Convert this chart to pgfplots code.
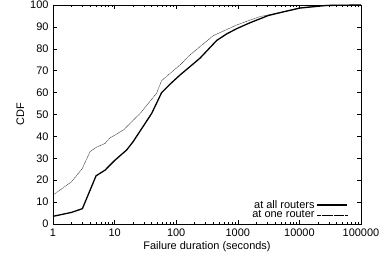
\documentclass[border=0pt]{standalone}
\usepackage{fontspec}
\setmainfont{Liberation Sans}
\usepackage{pgfplots}
\usetikzlibrary{calc}
\pgfplotsset{compat=1.18}
\begin{document}
\begin{tikzpicture}
\begin{axis}[
  name=ax,
  scale only axis,
  width=308bp, height=219bp,
  xmode=log,
  xmin=1, xmax=100000,
  ymin=0, ymax=100,
  xtick={1,10,100,1000,10000,100000},
  xticklabels={1,10,100,1000,10000,100000},
  ytick={0,10,...,100},
  tick align=inside,
  major tick length=4bp,
  minor tick length=2bp,
  tick style={black, line width=0.5pt},
  axis line style={line width=0.8pt},
  /pgf/number format/assume math mode=true,
  ticklabel style={font=\fontsize{11}{11}\selectfont},
  xticklabel style={yshift=-1bp},
  yticklabel style={xshift=-1bp},
  xlabel={Failure duration (seconds)},
  ylabel={CDF},
  label style={font=\fontsize{11}{11}\selectfont},
  xlabel style={yshift=2bp},
  ylabel style={yshift=-1bp},
  legend style={draw=none, fill=none, at={(1,0)}, anchor=south east,
    xshift=-13bp, yshift=2.5bp,
    font=\fontsize{11}{11}\selectfont, row sep=-3bp, inner sep=0pt},
  legend cell align=right,
  legend plot pos=right,
  legend image code/.code={\draw[#1] (0bp,0bp) -- (30bp,0bp);},
]
\addplot[black, line width=1.3pt] coordinates {
(1,3.5) (2,5.3) (3,7) (5,22) (7,24.6) (10,29) (15.7,33.8) (20,37.6) (26,42.5)
(40,50.5) (58,60) (79,63.8) (115,68) (243,75.7) (454,83.8) (660,86.8) (960,89.2)
(1580,91.9) (3130,95.2) (4840,96.5) (10200,98.6) (27700,99.8) (100000,100)
};
\addlegendentry{at all routers}
\addplot[black, line width=0.5pt, dash pattern=on 0.5pt off 0.6pt] coordinates {
(1,13.2) (2,19.3) (3,25.4) (4,33) (5,35) (7,36.8) (8.4,39.3) (13.9,42.9)
(26,50.5) (48,59.7) (58,65.5) (115,72.6) (167,77.2) (400,86) (960,90.9)
(2290,94.7) (4840,96.6) (10200,98.8) (27700,99.9) (100000,100)
};
\addlegendentry{at one router}
\end{axis}
\pgfresetboundingbox
\path[use as bounding box] ($(ax.south west)+(-53bp,-41bp)$) rectangle ($(ax.north east)+(19bp,5bp)$);
\end{tikzpicture}
\end{document}
